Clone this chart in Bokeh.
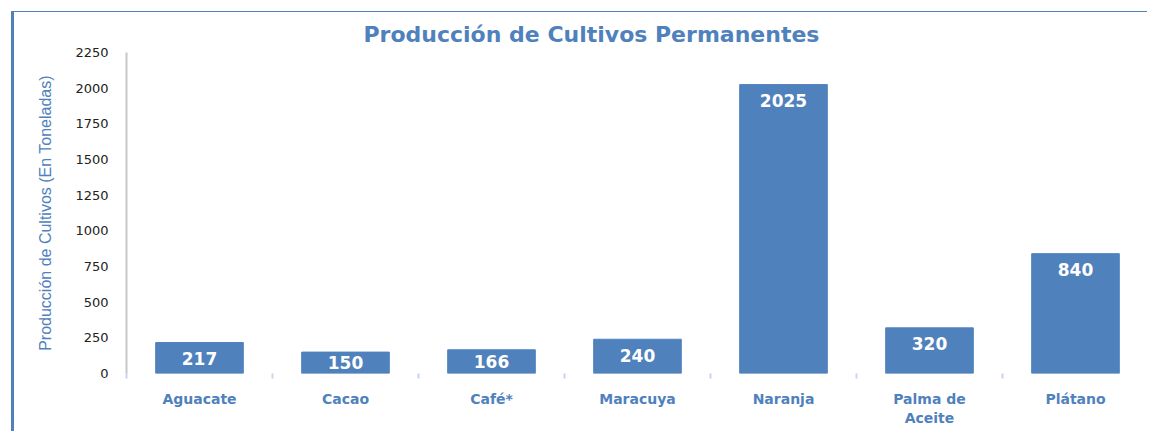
from bokeh.plotting import figure
from bokeh.models import ColumnDataSource, FixedTicker, LinearAxis, Span, Range1d
from bokeh.core.properties import value
from bokeh.embed import file_html
from bokeh.resources import INLINE

categories = ["Aguacate", "Cacao", "Café*", "Maracuya", "Naranja", "Palma de\nAceite", "Plátano"]
production = [217, 150, 166, 240, 2025, 320, 840]
y_ticks = [0, 250, 500, 750, 1000, 1250, 1500, 1750, 2000, 2250]

BLUE = "#4f81bd"
n = len(categories)
xc = [i + 0.5 for i in range(n)]
ymax = y_ticks[-1]
px_per_unit = 321 / ymax
label_y = [max(v - 16 / px_per_unit, v / 2) for v in production]

src = ColumnDataSource(dict(x=xc, top=production, ly=label_y,
                            txt=[str(v) for v in production]))

p = figure(width=1136, height=420, output_backend="svg", toolbar_location=None,
           x_range=Range1d(0, n), y_range=Range1d(0, ymax),
           min_border_left=112, min_border_right=2, min_border_top=40, min_border_bottom=59,
           x_axis_type=None)
p.styles = {"margin-left": "11px", "margin-top": "11px",
            "border-top": "1px solid #4f81bd", "border-left": "3px solid #4f81bd"}

p.title.text = "Producción de Cultivos Permanentes"
p.title.align = "left"
p.title.offset = 237
p.title.text_font = "DejaVu Sans"
p.title.text_font_size = "22px"
p.title.text_font_style = "bold"
p.title.text_color = BLUE
p.title.standoff = 11

p.outline_line_color = None
p.xgrid.grid_line_color = None
p.ygrid.grid_line_color = None

p.vbar(x="x", top="top", width=0.6, source=src, fill_color=BLUE, line_color=BLUE)
p.text(x="x", y="ly", text="txt", source=src, text_color="white",
       text_font=value("DejaVu Sans"), text_font_style="bold", text_font_size="17px",
       text_align="center", text_baseline="middle")

# y axis
ya = p.yaxis[0]
ya.ticker = FixedTicker(ticks=y_ticks)
ya.major_tick_out = 0
ya.major_tick_in = 0
ya.minor_tick_out = 0
ya.minor_tick_in = 0
ya.axis_line_color = "#c8c8c8"
ya.axis_line_width = 2
ya.major_label_standoff = 18
ya.major_label_text_font = "DejaVu Sans"
ya.major_label_text_font_size = "13px"
ya.major_label_text_color = "#222222"
ya.axis_label = "Producción de Cultivos (En Toneladas)"
ya.axis_label_text_font = "Liberation Sans"
ya.axis_label_text_font_style = "normal"
ya.axis_label_text_font_size = "16px"
ya.axis_label_text_color = BLUE
ya.axis_label_standoff = 18

# x axis with labels at centres, ticks at category boundaries
xa = LinearAxis(ticker=FixedTicker(ticks=xc, minor_ticks=list(range(n + 1))))
xa.major_label_overrides = {c: lab for c, lab in zip(xc, categories)}
xa.axis_line_color = None
xa.major_tick_out = 0
xa.major_tick_in = 0
xa.minor_tick_out = 5
xa.minor_tick_in = 0
xa.minor_tick_line_color = "#c6d5ec"
xa.minor_tick_line_width = 2
xa.major_label_standoff = 12
xa.major_label_text_font = "DejaVu Sans"
xa.major_label_text_font_style = "bold"
xa.major_label_text_font_size = "14px"
xa.major_label_text_color = BLUE
p.add_layout(xa, "below")

p.add_layout(Span(location=n, dimension="height", line_color="#c6d5ec", line_width=3))

open("out.html", "w").write(file_html(p, INLINE))
